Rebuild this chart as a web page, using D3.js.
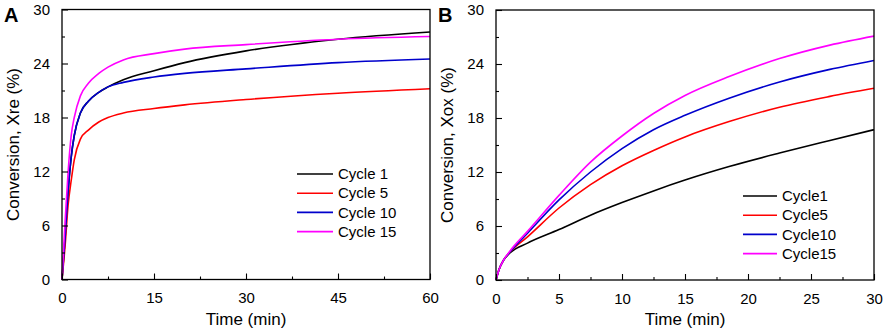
<!DOCTYPE html>
<html>
<head>
<meta charset="utf-8">
<script src="https://cdn.jsdelivr.net/npm/d3@7"></script>
<style>
  body { margin: 0; background: #fff; }
  svg text { font-family: Arial, 'Liberation Sans', sans-serif; fill: #000; }
</style>
</head>
<body>
<div id="root"></div>
<script>
// panel A - reduction (Xre)
const timeA = [0, 0.5, 1, 1.5, 2, 3, 4.3, 6, 7.5, 10, 15, 20, 30, 45, 60]
const reCycle1 = [0, 4.6, 9.8, 13.6, 16.0, 18.5, 19.8, 20.8, 21.4, 22.2, 23.2, 24.1, 25.4, 26.7, 27.5]
const reCycle5 = [0, 3.7, 8.3, 11.0, 13.3, 15.6, 16.6, 17.5, 18.0, 18.5, 19.0, 19.4, 20.0, 20.7, 21.2]
const reCycle10 = [0, 4.6, 9.8, 13.6, 16.0, 18.5, 19.8, 20.8, 21.4, 21.9, 22.5, 22.9, 23.4, 24.1, 24.5]
const reCycle15 = [0, 6.4, 12.0, 16.0, 18.0, 20.4, 21.8, 22.9, 23.6, 24.4, 25.1, 25.6, 26.1, 26.7, 27.0]

// panel B - oxidation (Xox)
const timeB = [0, 0.25, 0.6, 1.1, 2.5, 5, 7.5, 10, 12.5, 15, 18.5, 22.5, 26.5, 30]
const oxCycle1 = [0, 1.2, 2.2, 3.0, 4.1, 5.6, 7.2, 8.6, 9.9, 11.1, 12.6, 14.1, 15.5, 16.7]
const oxCycle5 = [0, 1.2, 2.2, 3.1, 4.8, 8.0, 10.6, 12.7, 14.4, 15.9, 17.6, 19.2, 20.4, 21.3]
const oxCycle10 = [0, 1.2, 2.2, 3.1, 5.2, 8.9, 12.0, 14.6, 16.7, 18.3, 20.2, 22.0, 23.4, 24.4]
const oxCycle15 = [0, 1.2, 2.2, 3.2, 5.4, 9.4, 13.1, 16.0, 18.5, 20.5, 22.6, 24.6, 26.1, 27.1]

const colors = ['#000000', '#ff0000', '#0000cc', '#ff00ff']
const yTicks = [0, 6, 12, 18, 24, 30]

const panels = [
  {
    letter: 'A',
    left: 62, right: 430, top: 9.5, bottom: 279.5,
    xMax: 60, xTicks: [0, 15, 30, 45, 60], xMinor: 7.5,
    time: timeA,
    series: [reCycle1, reCycle5, reCycle10, reCycle15],
    names: ['Cycle 1', 'Cycle 5', 'Cycle 10', 'Cycle 15'],
    yTitle: 'Conversion, Xre (%)',
    legend: { x: 297, y: 174, len: 36 }
  },
  {
    letter: 'B',
    left: 496, right: 874, top: 10, bottom: 280,
    xMax: 30, xTicks: [0, 5, 10, 15, 20, 25, 30], xMinor: 2.5,
    time: timeB,
    series: [oxCycle1, oxCycle5, oxCycle10, oxCycle15],
    names: ['Cycle1', 'Cycle5', 'Cycle10', 'Cycle15'],
    yTitle: 'Conversion, Xox (%)',
    legend: { x: 743, y: 196, len: 34 }
  }
]

const svg = d3.select('#root').append('svg')
  .attr('width', 886)
  .attr('height', 331)

panels.forEach(p => {
  const x = d3.scaleLinear().domain([0, p.xMax]).range([p.left, p.right])
  const y = d3.scaleLinear().domain([0, 30]).range([p.bottom, p.top])
  const g = svg.append('g')

  // lines first, frame drawn on top
  const line = d3.line()
    .x(d => x(d[0]))
    .y(d => y(d[1]))
    .curve(d3.curveMonotoneX)
  p.series.forEach((vals, i) => {
    g.append('path')
      .datum(p.time.map((t, j) => [t, vals[j]]))
      .attr('fill', 'none')
      .attr('stroke', colors[i])
      .attr('stroke-width', 1.6)
      .attr('d', line)
  })

  g.append('rect')
    .attr('x', p.left).attr('y', p.top)
    .attr('width', p.right - p.left).attr('height', p.bottom - p.top)
    .attr('fill', 'none').attr('stroke', '#000').attr('stroke-width', 1.3)

  // axes with inward ticks
  const xMinorTicks = d3.range(p.xMinor, p.xMax, p.xMinor * 2)
  g.append('g')
    .attr('transform', `translate(0,${p.bottom})`)
    .call(d3.axisBottom(x).tickValues(xMinorTicks).tickSize(-3).tickFormat(''))
    .call(a => a.select('.domain').remove())
  g.append('g')
    .attr('transform', `translate(0,${p.bottom})`)
    .call(d3.axisBottom(x).tickValues(p.xTicks).tickSize(-6).tickPadding(13))
    .call(a => a.select('.domain').remove())
    .call(a => a.selectAll('text').attr('font-size', 15).attr('font-family', null))

  g.append('g')
    .attr('transform', `translate(${p.left},0)`)
    .call(d3.axisLeft(y).tickValues(d3.range(3, 30, 6)).tickSize(-3).tickFormat(''))
    .call(a => a.select('.domain').remove())
  g.append('g')
    .attr('transform', `translate(${p.left},0)`)
    .call(d3.axisLeft(y).tickValues(yTicks).tickSize(-6).tickPadding(12))
    .call(a => a.select('.domain').remove())
    .call(a => a.selectAll('text').attr('font-size', 15).attr('font-family', null))

  g.selectAll('.tick line').attr('stroke', '#000').attr('stroke-width', 1.1)

  // titles
  g.append('text')
    .attr('x', (p.left + p.right) / 2)
    .attr('y', 325)
    .attr('text-anchor', 'middle')
    .attr('font-size', 17)
    .text('Time (min)')
  g.append('text')
    .attr('transform', `translate(${p.left - 43},${(p.top + p.bottom) / 2}) rotate(-90)`)
    .attr('text-anchor', 'middle')
    .attr('font-size', 17)
    .text(p.yTitle)
  g.append('text')
    .attr('x', p.left - 58)
    .attr('y', 22)
    .attr('font-size', 20)
    .attr('font-weight', 'bold')
    .text(p.letter)

  // legend
  const leg = g.append('g')
  p.names.forEach((name, i) => {
    const ly = p.legend.y + i * 19.2
    leg.append('line')
      .attr('x1', p.legend.x).attr('x2', p.legend.x + p.legend.len)
      .attr('y1', ly).attr('y2', ly)
      .attr('stroke', colors[i]).attr('stroke-width', 1.6)
    leg.append('text')
      .attr('x', p.legend.x + p.legend.len + 5)
      .attr('y', ly)
      .attr('dy', '0.35em')
      .attr('font-size', 15)
      .text(name)
  })
})
</script>
</body>
</html>
